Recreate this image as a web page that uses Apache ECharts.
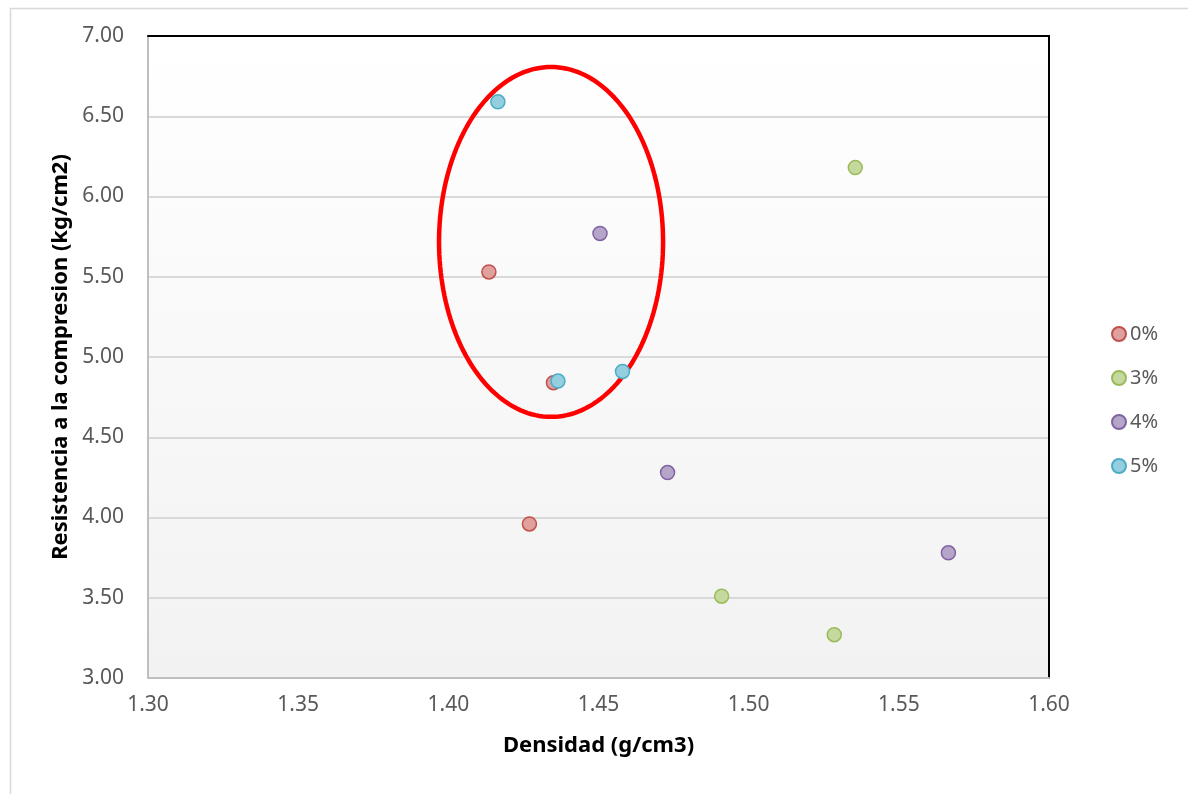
<!DOCTYPE html>
<html>
<head>
<meta charset="utf-8">
<script src="https://cdn.jsdelivr.net/npm/echarts@6/dist/echarts.min.js"></script>
<style>html,body{margin:0;padding:0;background:#fff}#c{width:1188px;height:794px}</style>
</head>
<body>
<div id="c"></div>
<script>
const seriesNames = ['0%', '3%', '4%', '5%'];
const data0 = [[1.4135, 5.53], [1.435, 4.84], [1.427, 3.96]];
const data3 = [[1.5355, 6.18], [1.491, 3.51], [1.5285, 3.27]];
const data4 = [[1.4505, 5.77], [1.473, 4.28], [1.5665, 3.78]];
const data5 = [[1.4165, 6.59], [1.4365, 4.85], [1.458, 4.91]];
const xTicks = [1.30, 1.35, 1.40, 1.45, 1.50, 1.55, 1.60];
const yTicks = [3.00, 3.50, 4.00, 4.50, 5.00, 5.50, 6.00, 6.50, 7.00];
// highlight ellipse: center x, center y, radius x, radius y (data units)
const ellipse = [[1.4342, 5.717, 0.0373, 1.09]];

const fills = ['#dfa09e', '#c5d89e', '#b5a5c9', '#95cfdf'];
const borders = ['#c0504d', '#9bbb59', '#8064a2', '#4bacc6'];
const allData = [data0, data3, data4, data5];
const FONT = 'Noto Sans';

const chart = echarts.init(document.getElementById('c'));
const scatter = seriesNames.map((n, i) => ({
  name: n,
  type: 'scatter',
  data: allData[i],
  symbol: 'circle',
  symbolSize: 14,
  z: 5,
  itemStyle: { color: fills[i], borderColor: borders[i], borderWidth: 1.5, opacity: 1 }
}));

chart.setOption({
  animation: false,
  textStyle: { fontFamily: FONT },
  graphic: [{
    type: 'rect', left: 8, top: 6, z: -10,
    shape: { width: 1179, height: 800 },
    style: { fill: 'none', stroke: '#d9d9d9', lineWidth: 1.5 }
  }],
  grid: {
    left: 148, top: 36, right: 139, bottom: 116,
    show: true,
    borderWidth: 0,
    backgroundColor: new echarts.graphic.LinearGradient(0, 0, 0, 1, [
      { offset: 0, color: '#ffffff' }, { offset: 1, color: '#f2f2f2' }
    ])
  },
  legend: {
    data: seriesNames,
    orient: 'vertical',
    left: 1106, top: 319,
    itemGap: 24,
    itemWidth: 14, itemHeight: 14,
    icon: 'circle',
    textStyle: { fontSize: 20, color: '#595959', fontFamily: FONT, padding: [0, 0, 0, -1] }
  },
  xAxis: [{
    type: 'value', min: 1.30, max: 1.60, interval: 0.05,
    name: 'Densidad (g/cm3)', nameLocation: 'middle', nameGap: 57,
    nameTextStyle: { fontSize: 22, fontWeight: 'bold', color: '#000', fontFamily: FONT },
    axisLine: { show: true, lineStyle: { color: '#bfbfbf', width: 2 } },
    axisTick: { show: false },
    splitLine: { show: false },
    axisLabel: { fontSize: 21, color: '#595959', margin: 17, formatter: v => v.toFixed(2) }
  }, {
    type: 'value', min: 1.30, max: 1.60, position: 'top',
    axisLine: { show: true, onZero: false, lineStyle: { color: '#000', width: 2 } },
    axisTick: { show: false }, axisLabel: { show: false }, splitLine: { show: false }
  }],
  yAxis: [{
    type: 'value', min: 3.00, max: 7.00, interval: 0.5,
    name: 'Resistencia a la compresion (kg/cm2)', nameLocation: 'middle', nameGap: 76,
    nameTextStyle: { fontSize: 22, fontWeight: 'bold', color: '#000', fontFamily: FONT },
    axisLine: { show: true, lineStyle: { color: '#bfbfbf', width: 2 } },
    axisTick: { show: false },
    splitLine: { show: true, lineStyle: { color: '#d9d9d9', width: 2 } },
    axisLabel: { fontSize: 21, color: '#595959', margin: 24, formatter: v => v.toFixed(2) }
  }, {
    type: 'value', min: 3.00, max: 7.00, position: 'right',
    axisLine: { show: true, onZero: false, lineStyle: { color: '#000', width: 2 } },
    axisTick: { show: false }, axisLabel: { show: false }, splitLine: { show: false }
  }],
  series: [{
    type: 'custom',
    data: ellipse,
    z: 3,
    silent: true,
    clip: false,
    encode: { x: 0, y: 1 },
    renderItem: function (params, api) {
      const c = api.coord([api.value(0), api.value(1)]);
      const s = api.size([api.value(2), api.value(3)]);
      const pts = [];
      for (let k = 0; k < 180; k++) {
        const a = k / 180 * Math.PI * 2;
        pts.push([c[0] + s[0] * Math.cos(a), c[1] + s[1] * Math.sin(a)]);
      }
      return {
        type: 'polygon',
        shape: { points: pts, smooth: 0 },
        style: { fill: 'none', stroke: '#ff0000', lineWidth: 4.5 }
      };
    }
  }].concat(scatter)
});
</script>
</body>
</html>
